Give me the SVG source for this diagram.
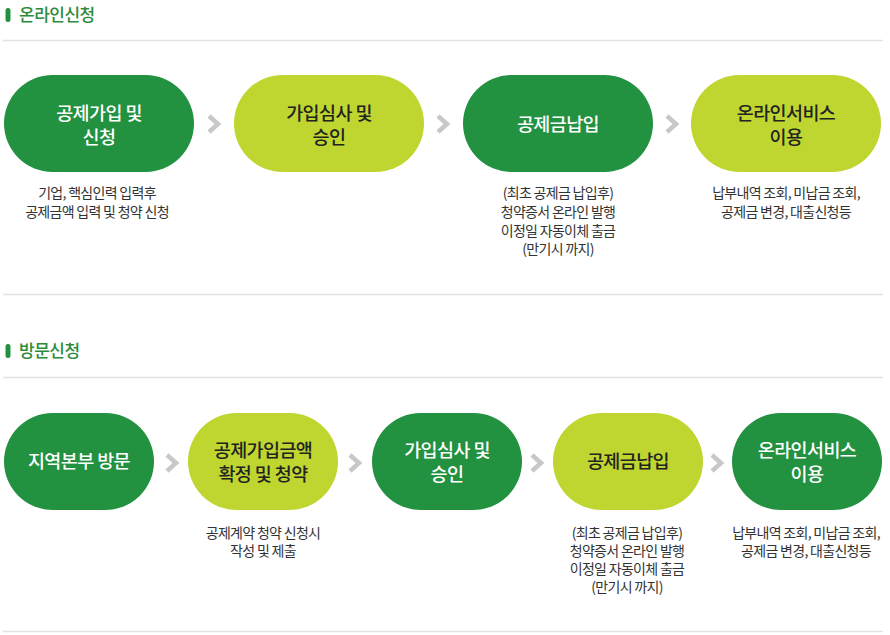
<svg xmlns="http://www.w3.org/2000/svg" width="890" height="635" viewBox="0 0 890 635">
<defs>
<style>
.hd{font-family:"Noto Sans CJK KR","Noto Sans",sans-serif;font-size:17px;font-weight:500;fill:#2d8b3c;letter-spacing:-0.5px}
.bar{fill:#229140}
.rule{stroke:#e3e3e3;stroke-width:1.5}
.dk{fill:#229140}
.lt{fill:#bed62f}
.tw{font-family:"Noto Sans CJK KR","Noto Sans",sans-serif;font-size:18.5px;font-weight:500;fill:#fff;text-anchor:middle;letter-spacing:-0.6px}
.tb{font-family:"Noto Sans CJK KR","Noto Sans",sans-serif;font-size:18.5px;font-weight:500;fill:#222;text-anchor:middle;letter-spacing:-0.6px}
.ds{font-family:"Noto Sans CJK KR","Noto Sans",sans-serif;font-size:14px;fill:#333;text-anchor:middle;letter-spacing:-0.7px}
.chev{fill:none;stroke:#c8c8c8;stroke-width:4.5}
</style>
<path id="ch" class="chev" d="M-5,-8 L4,0 L-5,8"/>
</defs>
<g id="header1">
<rect class="bar" x="5.5" y="8" width="5" height="14" rx="2.5"/>
<text class="hd" x="19" y="20.5">온라인신청</text>
</g>
<line class="rule" x1="3" y1="40.5" x2="883" y2="40.5"/>
<g id="n1">
<rect class="dk" x="4" y="75" width="190" height="97" rx="48.5"/>
<text class="tw" x="99" y="120">공제가입 및</text>
<text class="tw" x="99" y="144">신청</text>
<text class="ds" x="97" y="198">기업, 핵심인력 입력후</text>
<text class="ds" x="97" y="217">공제금액 입력 및 청약 신청</text>
</g>
<g id="n2">
<rect class="lt" x="234" y="75" width="190" height="97" rx="48.5"/>
<text class="tb" x="329" y="120">가입심사 및</text>
<text class="tb" x="329" y="144">승인</text>
</g>
<g id="n3">
<rect class="dk" x="463" y="75" width="190" height="97" rx="48.5"/>
<text class="tw" x="558" y="131">공제금납입</text>
<text class="ds" x="558" y="198">(최초 공제금 납입후)</text>
<text class="ds" x="558" y="217">청약증서 온라인 발행</text>
<text class="ds" x="558" y="236">이정일 자동이체 출금</text>
<text class="ds" x="558" y="254">(만기시 까지)</text>
</g>
<g id="n4">
<rect class="lt" x="691" y="75" width="190" height="97" rx="48.5"/>
<text class="tb" x="786" y="120">온라인서비스</text>
<text class="tb" x="786" y="144">이용</text>
<text class="ds" x="786" y="198">납부내역 조회, 미납금 조회,</text>
<text class="ds" x="786" y="217">공제금 변경, 대출신청등</text>
</g>
<line class="rule" x1="3" y1="294.5" x2="883" y2="294.5"/>
<g id="header2">
<rect class="bar" x="5.5" y="344" width="5" height="14" rx="2.5"/>
<text class="hd" x="19" y="357">방문신청</text>
</g>
<line class="rule" x1="3" y1="377.5" x2="883" y2="377.5"/>
<g id="m1">
<rect class="dk" x="4" y="413" width="150" height="97" rx="48.5"/>
<text class="tw" x="79" y="468">지역본부 방문</text>
</g>
<g id="m2">
<rect class="lt" x="188" y="413" width="150" height="97" rx="48.5"/>
<text class="tb" x="263" y="457">공제가입금액</text>
<text class="tb" x="263" y="481">확정 및 청약</text>
<text class="ds" x="263" y="538">공제계약 청약 신청시</text>
<text class="ds" x="263" y="556">작성 및 제출</text>
</g>
<g id="m3">
<rect class="dk" x="372" y="413" width="150" height="97" rx="48.5"/>
<text class="tw" x="447" y="457">가입심사 및</text>
<text class="tw" x="447" y="481">승인</text>
</g>
<g id="m4">
<rect class="lt" x="553" y="413" width="150" height="97" rx="48.5"/>
<text class="tb" x="628" y="468">공제금납입</text>
<text class="ds" x="627" y="538">(최초 공제금 납입후)</text>
<text class="ds" x="627" y="556">청약증서 온라인 발행</text>
<text class="ds" x="627" y="574">이정일 자동이체 출금</text>
<text class="ds" x="627" y="592">(만기시 까지)</text>
</g>
<g id="m5">
<rect class="dk" x="732" y="413" width="150" height="97" rx="48.5"/>
<text class="tw" x="807" y="457">온라인서비스</text>
<text class="tw" x="807" y="481">이용</text>
<text class="ds" x="806" y="538">납부내역 조회, 미납금 조회,</text>
<text class="ds" x="806" y="556">공제금 변경, 대출신청등</text>
</g>
<line class="rule" x1="3" y1="631.5" x2="883" y2="631.5"/>
<g id="connectors">
<use href="#ch" x="214" y="124"/>
<use href="#ch" x="443" y="124"/>
<use href="#ch" x="672" y="124"/>
<use href="#ch" x="172" y="463"/>
<use href="#ch" x="355" y="463"/>
<use href="#ch" x="537" y="463"/>
<use href="#ch" x="717" y="463"/>
</g>
</svg>
